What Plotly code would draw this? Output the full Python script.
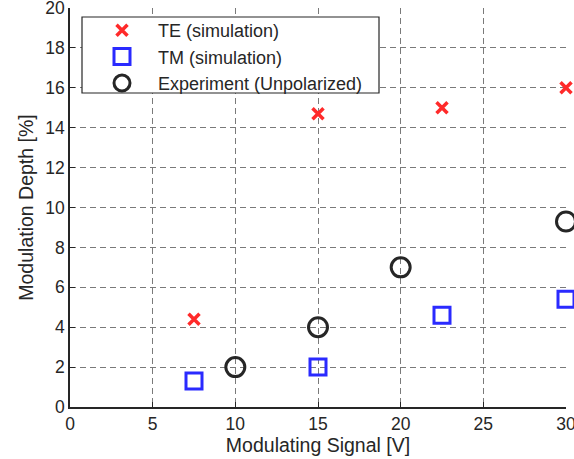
import plotly.graph_objects as go

te_x = [7.5, 15, 22.5, 30]
te_y = [4.4, 14.7, 15.0, 16.0]
tm_x = [7.5, 15, 22.5, 30]
tm_y = [1.3, 2.0, 4.6, 5.4]
exp_x = [10, 15, 20, 30]
exp_y = [2.0, 4.0, 7.0, 9.3]

x_ticks = [0, 5, 10, 15, 20, 25, 30]
y_ticks = [0, 2, 4, 6, 8, 10, 12, 14, 16, 18, 20]

TXT = "#262626"
FONT = "Liberation Sans, Arial, sans-serif"

fig = go.Figure()
fig.add_trace(go.Scatter(x=te_x, y=te_y, mode="markers", name="TE (simulation)",
                         marker=dict(symbol="x-thin-open", size=11, color="#ff2a2a",
                                     line=dict(color="#ff2a2a", width=3.5)),
                         cliponaxis=False))
fig.add_trace(go.Scatter(x=tm_x, y=tm_y, mode="markers", name="TM (simulation)",
                         marker=dict(symbol="square-open", size=16, color="#2a2aff",
                                     line=dict(color="#2a2aff", width=3)),
                         cliponaxis=False))
fig.add_trace(go.Scatter(x=exp_x, y=exp_y, mode="markers", name="Experiment (Unpolarized)",
                         marker=dict(symbol="circle-open", size=19, color="#262626",
                                     line=dict(color="#262626", width=3)),
                         cliponaxis=False))

axis_common = dict(
    showgrid=True, gridcolor="#7a7a7a", gridwidth=1, griddash="6px,4px",
    zeroline=False, showline=True, linecolor="#262626", linewidth=1.5,
    ticks="inside", ticklen=5, tickcolor="#262626",
    tickfont=dict(family=FONT, size=17.5, color=TXT),
    ticklabeloverflow="allow", automargin=False,
    mirror=False,
)

fig.update_xaxes(range=[0, 30], tickvals=x_ticks, ticktext=[str(v) for v in x_ticks],
                 title=dict(text="Modulating Signal [V]", font=dict(family=FONT, size=19.5, color=TXT), standoff=4),
                 **axis_common)
fig.update_yaxes(range=[0, 20], tickvals=y_ticks, ticktext=[str(v) for v in y_ticks],
                 title=dict(text="Modulation Depth [%]", font=dict(family=FONT, size=19.5, color=TXT), standoff=6),
                 **axis_common)

fig.add_shape(type="rect", xref="paper", yref="paper",
              x0=(82 - 70) / 496, x1=(379 - 70) / 496,
              y0=(407 - 93) / 399, y1=(407 - 17) / 399,
              line=dict(color="#262626", width=1.2), fillcolor="white", layer="above")

fig.update_layout(
    width=574, height=459,
    margin=dict(l=70, r=8, t=8, b=52, autoexpand=False),
    paper_bgcolor="white", plot_bgcolor="white",
    showlegend=True,
    legend=dict(x=(86 - 70) / 496, y=(407 - 12) / 399, xanchor="left", yanchor="top",
                bgcolor="rgba(0,0,0,0)", borderwidth=0,
                font=dict(family=FONT, size=18, color=TXT), tracegroupgap=0,
                itemsizing="trace", itemwidth=62),
)

fig.write_html("out.html")
